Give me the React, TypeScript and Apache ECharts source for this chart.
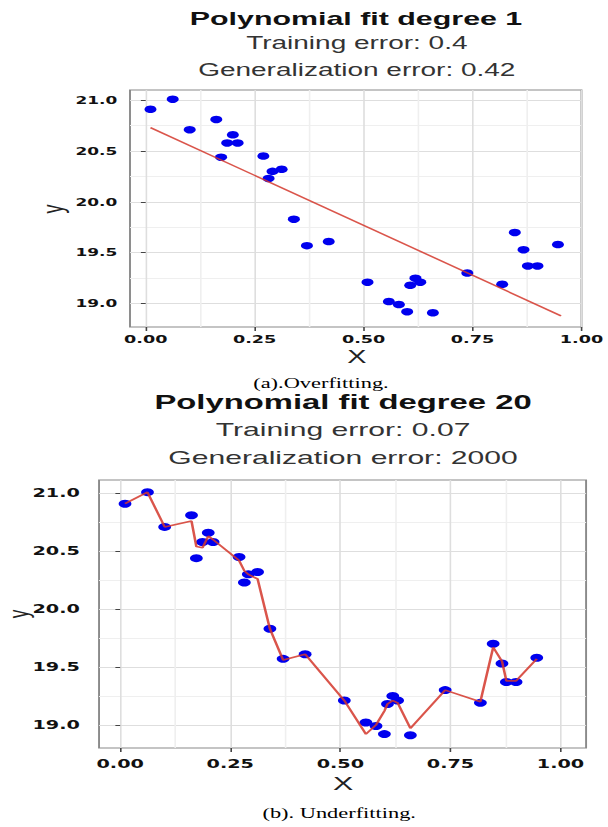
import React, { useEffect, useRef } from "react";
import * as echarts from "echarts";

// ---- data ----
const pointsX = [
  0.011, 0.062, 0.101, 0.162, 0.173, 0.187, 0.2, 0.211, 0.27, 0.282, 0.291, 0.312, 0.34, 0.37, 0.42,
  0.509, 0.558, 0.581, 0.6, 0.607, 0.619, 0.63, 0.659, 0.738, 0.818, 0.847, 0.867, 0.877, 0.899, 0.946,
];
const pointsY = [
  20.91, 21.01, 20.71, 20.81, 20.44, 20.58, 20.66, 20.58, 20.45, 20.23, 20.3, 20.32, 19.83, 19.57, 19.61,
  19.21, 19.02, 18.99, 18.92, 19.18, 19.25, 19.21, 18.91, 19.3, 19.19, 19.7, 19.53, 19.37, 19.37, 19.58,
];
const linFitX = [0.011, 0.953];
const linFitY = [20.73, 18.88];
const polyFitY = [
  20.91, 21.01, 20.71, 20.76, 20.54, 20.53, 20.63, 20.6, 20.42, 20.33, 20.3, 20.26, 19.83, 19.56, 19.61,
  19.21, 18.92, 19.0, 19.12, 19.18, 19.21, 19.19, 18.97, 19.3, 19.2, 19.67, 19.55, 19.38, 19.38, 19.57,
];
const xMajorTicks = [0, 0.25, 0.5, 0.75, 1.0];
const xMinorTicks = [0.125, 0.375, 0.625, 0.875];
const yMajorTicks = [19.0, 19.5, 20.0, 20.5, 21.0];
const yMinorTicks = [19.25, 19.75, 20.25, 20.75];

const W = 380;
const H = 827;
const S = 608 / W;

function axisPair(
  dim: "x" | "y",
  gridIndex: number,
  min: number,
  max: number,
  fontSize: number,
  margin: number,
  tickLen: number,
  digits: number
) {
  const minor = {
    type: "value",
    gridIndex,
    min,
    max,
    position: dim === "x" ? "bottom" : "left",
    axisLine: { show: false },
    axisTick: { show: false, customValues: dim === "x" ? xMinorTicks : yMinorTicks },
    axisLabel: { show: false },
    splitLine: { show: true, lineStyle: { color: "#efefef", width: 1 } },
  };
  const major = {
    type: "value",
    gridIndex,
    min,
    max,
    position: dim === "x" ? "bottom" : "left",
    axisLine: { show: false },
    axisTick: {
      show: true,
      length: tickLen,
      customValues: dim === "x" ? xMajorTicks : yMajorTicks,
      lineStyle: { color: "#444", width: 1 },
    },
    axisLabel: {
      customValues: dim === "x" ? xMajorTicks : yMajorTicks,
      showMinLabel: true,
      showMaxLabel: true,
      formatter: (v: number) => v.toFixed(digits),
      fontFamily: "DejaVu Sans",
      fontWeight: "bold",
      fontSize,
      color: "#111",
      margin,
    },
    splitLine: { show: true, lineStyle: { color: "#dedede", width: 1 } },
  };
  return [minor, major];
}

function txt(x: number, y: number, text: string, fontSize: number, opts: any = {}) {
  return {
    type: "text",
    x,
    y,
    rotation: opts.rotation || 0,
    style: {
      text,
      fontSize,
      fontFamily: opts.fontFamily || "Liberation Sans",
      fontWeight: opts.fontWeight || "normal",
      fill: opts.fill || "#333",
      align: "center",
      verticalAlign: "middle",
    },
  };
}

export default function App() {
  const ref = useRef<HTMLDivElement>(null);
  useEffect(() => {
    if (!ref.current) return;
    const chart = echarts.init(ref.current, null, { renderer: "svg", width: W, height: H });
    const pts = pointsX.map((x, i) => [x, pointsY[i]]);
    const linFit = linFitX.map((x, i) => [x, linFitY[i]]);
    const polyFit = pointsX.map((x, i) => [x, polyFitY[i]]);

    const [tXmin, tXmaj] = axisPair("x", 0, -0.036, 1.0, 11, 6.5, 4, 2);
    const [tYmin, tYmaj] = axisPair("y", 0, 18.77, 21.1, 10.6, 8, 3, 1);
    const [bXmin, bXmaj] = axisPair("x", 1, -0.048, 1.058, 12, 10, 4, 2);
    const [bYmin, bYmaj] = axisPair("y", 1, 18.8, 21.115, 12, 12, 3, 1);

    const gridStyle = {
      show: true,
      backgroundColor: "#ffffff",
      borderColor: "#8a8a8a",
      borderWidth: 1.2,
    };

    chart.setOption({
      animation: false,
      backgroundColor: "#ffffff",
      grid: [
        { left: 81.25, top: 90, width: 282.5, height: 237, ...gridStyle },
        { left: 61.9, top: 480, width: 304.4, height: 268, ...gridStyle },
      ],
      xAxis: [tXmin, tXmaj, bXmin, bXmaj],
      yAxis: [tYmin, tYmaj, bYmin, bYmaj],
      series: [
        {
          type: "scatter",
          xAxisIndex: 1,
          yAxisIndex: 1,
          data: pts,
          symbolSize: 7.5,
          itemStyle: { color: "#0000ee", opacity: 1 },
          z: 2,
        },
        {
          type: "line",
          xAxisIndex: 1,
          yAxisIndex: 1,
          data: linFit,
          showSymbol: false,
          lineStyle: { color: "#d4372c", width: 1.4, opacity: 0.85 },
          z: 3,
        },
        {
          type: "scatter",
          xAxisIndex: 3,
          yAxisIndex: 3,
          data: pts,
          symbolSize: 8,
          itemStyle: { color: "#0000ee", opacity: 1 },
          z: 2,
        },
        {
          type: "line",
          xAxisIndex: 3,
          yAxisIndex: 3,
          data: polyFit,
          showSymbol: false,
          lineStyle: { color: "#d4372c", width: 1.6, opacity: 0.85 },
          z: 3,
        },
      ],
      graphic: [
        txt(222.5, 18, "Polynomial fit degree 1", 19, { fontWeight: "bold", fill: "#111" }),
        txt(223, 43, "Training error: 0.4", 17.5),
        txt(223, 70, "Generalization error: 0.42", 17.5),
        txt(223, 357, "X", 18, { fill: "#222" }),
        txt(33, 209, "y", 18, { rotation: Math.PI / 2, fill: "#222" }),
        txt(200.6, 383, "(a).Overfitting.", 14, { fontFamily: "Liberation Serif", fill: "#000" }),
        txt(214.4, 402, "Polynomial fit degree 20", 20.5, { fontWeight: "bold", fill: "#111" }),
        txt(214.4, 429, "Training error: 0.07", 18.8),
        txt(214.4, 457, "Generalization error: 2000", 18.8),
        txt(214.4, 783, "X", 19, { fill: "#222" }),
        txt(11.5, 614, "y", 17, { rotation: Math.PI / 2, fill: "#222" }),
        txt(212, 813, "(b). Underfitting.", 14, { fontFamily: "Liberation Serif", fill: "#000" }),
      ],
    });
    return () => chart.dispose();
  }, []);
  return (
    <div
      ref={ref}
      style={{
        position: "fixed",
        left: 0,
        top: 0,
        width: W,
        height: H,
        transform: `scaleX(${S})`,
        transformOrigin: "0 0",
        background: "#fff",
      }}
    />
  );
}
